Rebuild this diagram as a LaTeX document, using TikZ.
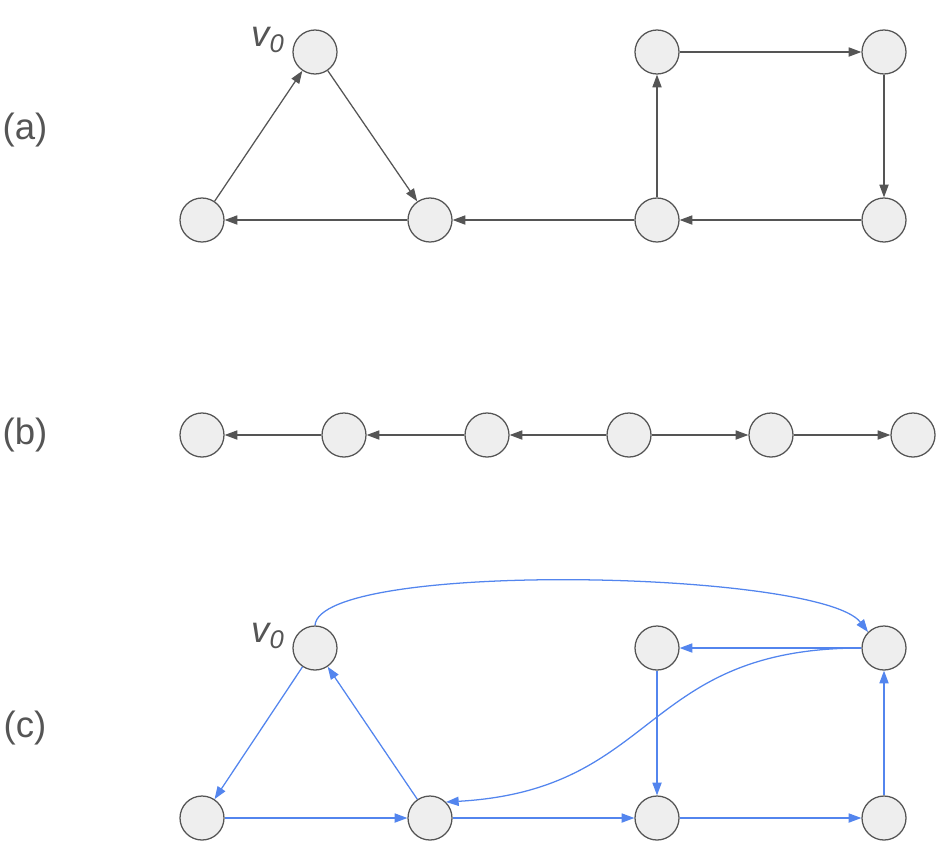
\documentclass[tikz,border=0pt]{standalone}
\usepackage{fontspec}
\setmainfont{Liberation Sans}
\usetikzlibrary{arrows.meta}
\definecolor{edgegray}{HTML}{555555}
\definecolor{nodefill}{HTML}{EEEEEE}
\definecolor{edgeblue}{HTML}{5385EE}
\begin{document}
\begin{tikzpicture}[x=0.025cm,y=-0.025cm]
	\tikzstyle{vert}=[circle,draw=edgegray,fill=nodefill,line width=0.9pt,minimum size=1.1cm,inner sep=0pt]
	\tikzstyle{garc}=[draw=edgegray,line width=0.9pt,-{Triangle[length=9pt,width=6.5pt]}]
	\tikzstyle{barc}=[draw=edgeblue,line width=0.9pt,-{Triangle[length=9pt,width=6.5pt]}]
	\tikzstyle{lbl}=[text=edgegray,font=\fontsize{26}{30}\selectfont]
	\useasboundingbox (0,0) rectangle (937,843);
	% (a)
	\node [lbl] (la) at (25,130) {(a)};
	\node [vert] (a0) at (315,52) {};
	\node [vert] (a1) at (202,220) {};
	\node [vert] (a2) at (430,220) {};
	\node [vert] (a3) at (657,220) {};
	\node [vert] (a4) at (657,52) {};
	\node [vert] (a5) at (884,52) {};
	\node [vert] (a6) at (884,220) {};
	\node [text=edgegray,font=\fontsize{26}{30}\selectfont\itshape] (va) at (268,40) {v\textsubscript{0}};
	\draw [garc] (a1) -- (a0);
	\draw [garc] (a0) -- (a2);
	\draw [garc] (a2) -- (a1);
	\draw [garc] (a3) -- (a2);
	\draw [garc] (a3) -- (a4);
	\draw [garc] (a4) -- (a5);
	\draw [garc] (a5) -- (a6);
	\draw [garc] (a6) -- (a3);
	% (b)
	\node [lbl] (lb) at (25,435) {(b)};
	\foreach \i/\x in {0/202,1/344,2/487,3/629,4/771,5/913}
		\node [vert] (b\i) at (\x,435) {};
	\draw [garc] (b1) -- (b0);
	\draw [garc] (b2) -- (b1);
	\draw [garc] (b3) -- (b2);
	\draw [garc] (b3) -- (b4);
	\draw [garc] (b4) -- (b5);
	% (c)
	\node [lbl] (lc) at (25,728) {(c)};
	\node [vert] (c0) at (315,648) {};
	\node [vert] (c1) at (202,818) {};
	\node [vert] (c2) at (430,818) {};
	\node [vert] (c3) at (657,818) {};
	\node [vert] (c4) at (884,818) {};
	\node [vert] (c5) at (657,648) {};
	\node [vert] (c6) at (884,648) {};
	\node [text=edgegray,font=\fontsize{26}{30}\selectfont\itshape] (vc) at (268,636) {v\textsubscript{0}};
	\draw [barc] (c0) -- (c1);
	\draw [barc] (c1) -- (c2);
	\draw [barc] (c2) -- (c0);
	\draw [barc] (c2) -- (c3);
	\draw [barc] (c3) -- (c4);
	\draw [barc] (c4) -- (c6);
	\draw [barc] (c6) -- (c5);
	\draw [barc] (c5) -- (c3);
	\draw [barc] (c6.west) .. controls (640,648) and (660,790) .. (c2.north east);
	\draw [barc] (c0.north) .. controls (320,560) and (820,570) .. (c6.north west);
\end{tikzpicture}
\end{document}
